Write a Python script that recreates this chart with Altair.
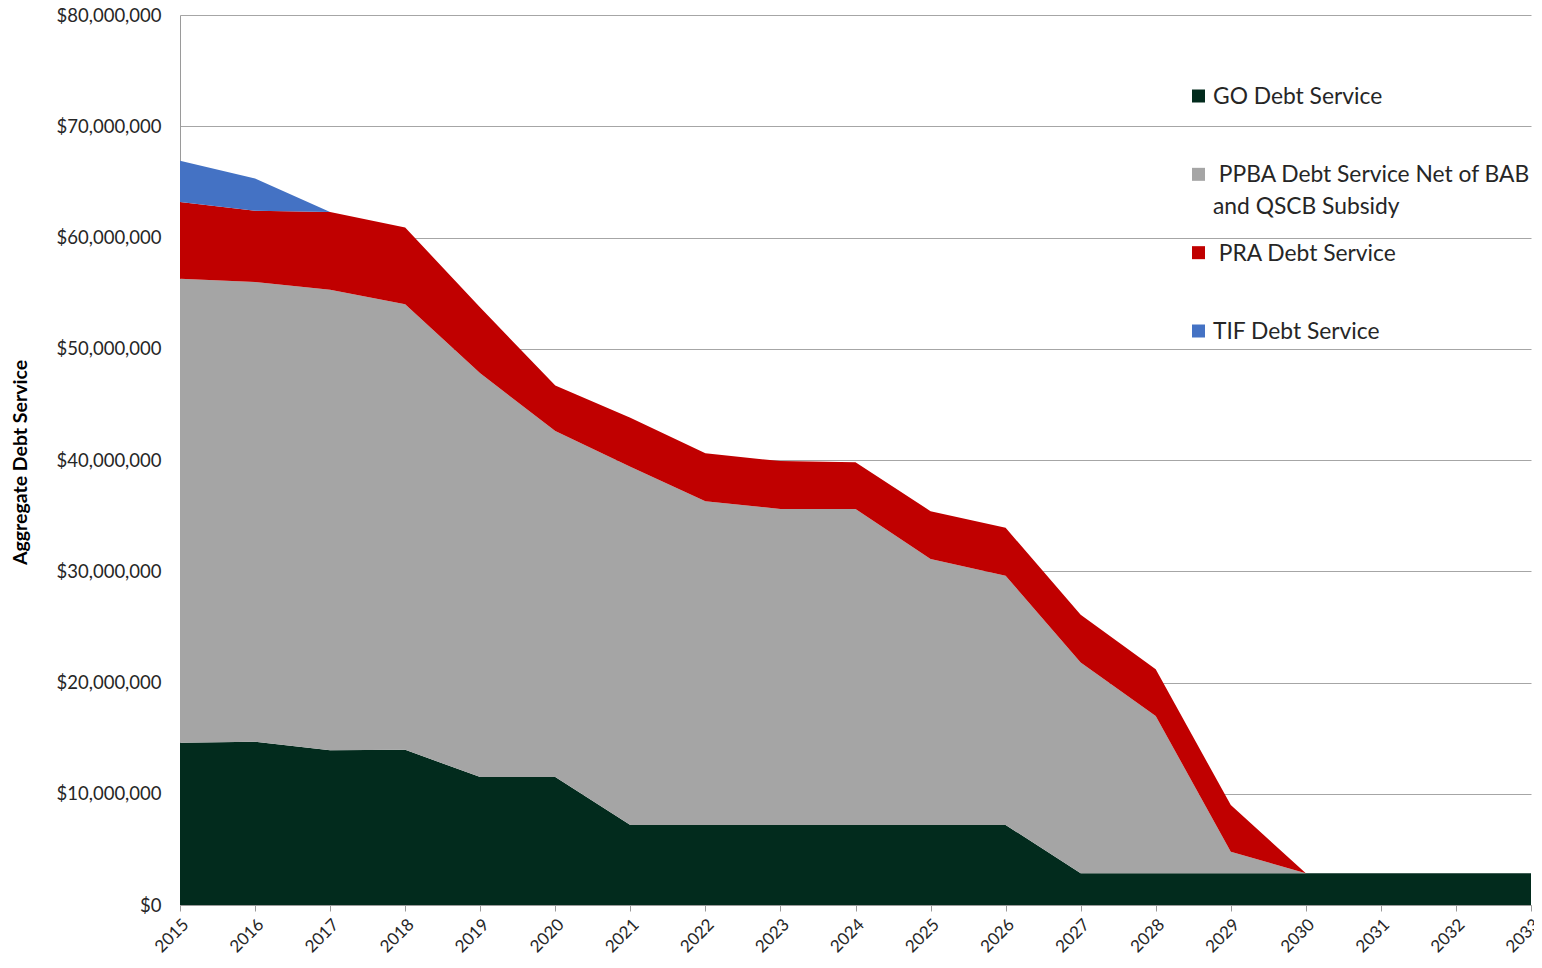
import altair as alt
import pandas as pd

years = list(range(2015, 2034))

# values in millions of dollars
go_debt = [14.58, 14.67, 13.9, 13.95, 11.5, 11.5, 7.2, 7.2, 7.2, 7.2, 7.2, 7.2,
           2.85, 2.85, 2.85, 2.85, 2.85, 2.85, 2.85]
ppba_debt = [41.72, 41.33, 41.4, 40.05, 36.3, 31.1, 32.2, 29.1, 28.4, 28.4, 23.9, 22.4,
             18.95, 14.15, 1.93, 0, 0, 0, 0]
pra_debt = [6.9, 6.4, 7.0, 6.9, 5.9, 4.1, 4.4, 4.3, 4.3, 4.2, 4.3, 4.3,
            4.3, 4.2, 4.2, 0, 0, 0, 0]
tif_debt = [3.7, 2.9, 0, 0, 0, 0, 0, 0, 0, 0, 0, 0, 0, 0, 0, 0, 0, 0, 0]

series = ["GO Debt Service", "PPBA Debt Service Net of BAB and QSCB Subsidy",
          "PRA Debt Service", "TIF Debt Service"]
legend_text = ["GO Debt Service",
               "\u200b\u00a0PPBA Debt Service Net of BAB\nand QSCB Subsidy",
               "\u200b\u00a0PRA Debt Service", "TIF Debt Service"]
colors = ["#022B1D", "#A5A5A5", "#C00000", "#4472C4"]
y_ticks = [0, 10e6, 20e6, 30e6, 40e6, 50e6, 60e6, 70e6, 80e6]

rows = []
for k, (name, vals) in enumerate(zip(series, [go_debt, ppba_debt, pra_debt, tif_debt])):
    for yr, v in zip(years, vals):
        rows.append({"year": yr, "series": name, "k": k, "value": v * 1e6})
df = pd.DataFrame(rows)
leg_df = pd.DataFrame({"series": series, "text": legend_text})

FONT = "Lato"
color_scale = alt.Scale(domain=series, range=colors)

areas = alt.Chart(df).mark_area(opacity=1).encode(
    x=alt.X("year:Q", scale=alt.Scale(domain=[2015, 2033], nice=False, zero=False),
            axis=alt.Axis(values=years, format="d", labelAngle=-45, grid=False,
                          tickSize=6, tickColor="#9a9a9a", domainColor="#9a9a9a",
                          labelFontSize=17, labelFont=FONT, labelColor="#262626",
                          labelPadding=5, title=None)),
    y=alt.Y("value:Q", stack="zero", scale=alt.Scale(domain=[0, 80e6], nice=False),
            axis=alt.Axis(values=y_ticks, format="$,.0f", grid=True, gridColor="#a6a6a6",
                          gridWidth=1, ticks=False, domainColor="#9a9a9a",
                          labelFontSize=18.5, labelFont=FONT, labelColor="#262626",
                          labelPadding=19, title="Aggregate Debt Service",
                          titleFont=FONT, titleFontSize=19.5, titleFontWeight="bold",
                          titleColor="#000000", titleX=-160, titleY=447,
                          titleAngle=270, titleAlign="center", titleBaseline="middle")),
    color=alt.Color("series:N", scale=color_scale, legend=None),
    order=alt.Order("k:Q"),
)

leg_y = alt.Y("series:N", scale=alt.Scale(domain=series, range=[81, 316], padding=0),
              axis=None)

leg_sq = alt.Chart(leg_df).mark_square(size=169, opacity=1).encode(
    x=alt.value(1018.5),
    y=leg_y,
    color=alt.Color("series:N", scale=color_scale, legend=None),
)
leg_txt = alt.Chart(leg_df).mark_text(align="left", baseline="top", dy=-10, fontSize=22.8,
                                       font=FONT, lineBreak="\n", lineHeight=32,
                                       color="#262626").encode(
    x=alt.value(1033),
    y=leg_y,
    text="text:N",
)

chart = alt.layer(areas, leg_sq, leg_txt).resolve_scale(y="independent").properties(
    width=1351, height=890,
    autosize=alt.AutoSizeParams(type="none"),
    padding={"left": 172, "top": 7, "right": 3, "bottom": 54},
).configure_view(stroke=None)

chart.save("out.html", embed_options={"renderer": "svg", "actions": False})
